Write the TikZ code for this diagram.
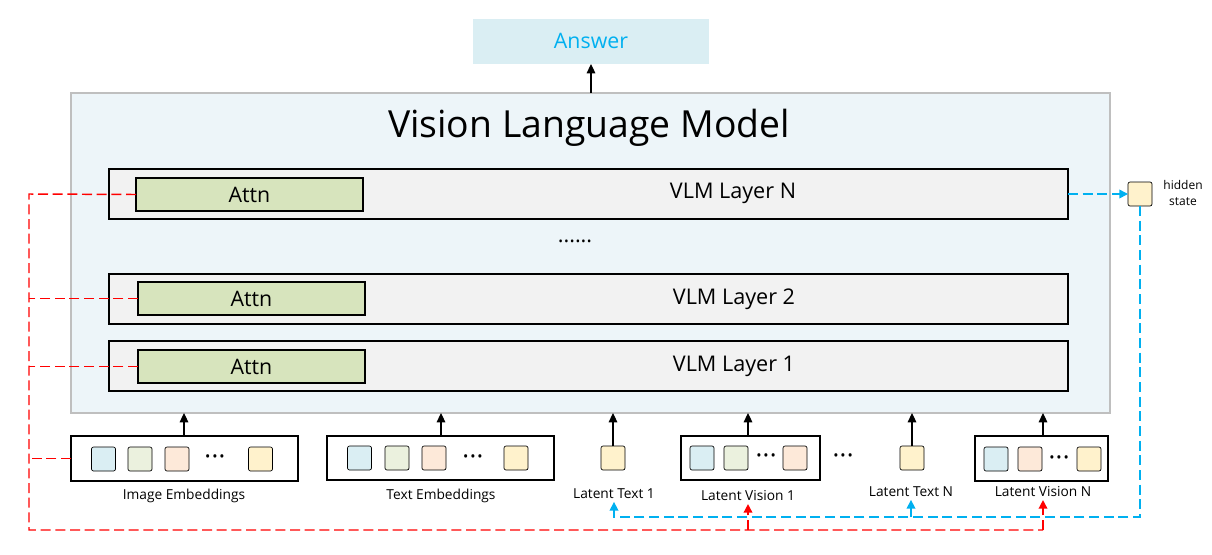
\documentclass[tikz,border=0pt]{standalone}
\usepackage{fontspec}
\setmainfont{Open Sans}
\usetikzlibrary{arrows.meta}
\definecolor{ansfill}{HTML}{DAEEF3}
\definecolor{anstext}{HTML}{00B0F0}
\definecolor{vlmfill}{HTML}{EDF5F9}
\definecolor{vlmborder}{HTML}{BFBFBF}
\definecolor{layerfill}{HTML}{F2F2F2}
\definecolor{attnfill}{HTML}{D7E4BD}
\definecolor{sqblue}{HTML}{DAEEF3}
\definecolor{sqgreen}{HTML}{EBF1DE}
\definecolor{sqpeach}{HTML}{FDE9D9}
\definecolor{sqyellow}{HTML}{FFF2CC}
\definecolor{redline}{HTML}{FF0000}
\definecolor{blueline}{HTML}{00B0F0}
\tikzset{
  pbox/.style n args={4}{at={(#1,#2)}, anchor=north west,
     minimum width={(#3-#1)*0.75pt}, minimum height={(#4-#2)*0.75pt},
     inner sep=0pt, outer sep=0pt},
  layerbox/.style={draw=black, fill=layerfill, line width=0.8pt},
  attnbox/.style={draw=black, fill=attnfill, line width=0.8pt, font=\fontsize{16}{19}\selectfont},
  laytext/.style={font=\fontsize{16.2}{19}\selectfont},
  embbox/.style={draw=black, fill=white, line width=0.9pt},
  sq/.style={draw=black, line width=0.5pt, rounded corners=1.5pt, minimum width=18pt, minimum height=18pt, inner sep=0pt, outer sep=0pt},
  lbl/.style={font=\fontsize{10.3}{12}\selectfont, inner sep=1pt},
  dots/.style={font=\fontsize{10.5}{10.5}\selectfont, inner sep=0pt},
  up/.style={-{Triangle[length=7pt,width=6.5pt]}, line width=0.8pt, black},
  reddash/.style={draw=redline, line width=1.1pt, dash pattern=on 7.5pt off 3.5pt},
  bluedash/.style={draw=blueline, line width=1.1pt, dash pattern=on 7.5pt off 3.5pt},
  dtip/.style={-{Triangle[length=6.5pt,width=6.5pt]}},
}
\newcommand\tdots{•\kern1.4pt•\kern1.4pt•}
\begin{document}
\begin{tikzpicture}[x=0.75pt,y=-0.75pt]
\useasboundingbox (0,0) rectangle (1212,554);
% answer
\node[pbox={473}{19}{709}{64}, fill=ansfill] (ans) {};
\node[text=anstext, font=\fontsize{16}{19}\selectfont] (anst) at (591,41) {Answer};
% VLM
\node[pbox={71}{93}{1110}{413}, fill=vlmfill, draw=vlmborder, line width=0.8pt] (vlm) {};
\node[font=\fontsize{28}{32}\selectfont] (title) at (589,128) {Vision Language Model};
\draw[up] (vlm.north -| ans.south) -- (ans.south);
% layers
\node[pbox={109}{169}{1068}{219}, layerbox] (layN) {};
\node[pbox={136}{178}{363}{211}, attnbox] (attnN) {Attn};
\node[laytext] (layNt) at (733,193) {VLM Layer N};
\node[laytext] (ldots) at (575,241) {......};
\node[pbox={109}{274}{1068}{324}, layerbox] (lay2) {};
\node[pbox={138}{282}{365}{315}, attnbox] (attn2) {Attn};
\node[laytext] (lay2t) at (734,299) {VLM Layer 2};
\node[pbox={109}{341}{1068}{391}, layerbox] (lay1) {};
\node[pbox={138}{350}{365}{383}, attnbox] (attn1) {Attn};
\node[laytext] (lay1t) at (734,366) {VLM Layer 1};
% image embeddings
\node[pbox={71}{436}{298}{481}, embbox] (img) {};
\node[sq, fill=sqblue] (i1) at (103.5,459) {};
\node[sq, fill=sqgreen] (i2) at (140,459) {};
\node[sq, fill=sqpeach] (i3) at (177,459) {};
\node[dots] (id) at (215,458) {\tdots};
\node[sq, fill=sqyellow] (i4) at (260.5,459) {};
\node[lbl] (imgl) at (184,496) {Image Embeddings};
\draw[up] (img.north -| imgl.north) -- (vlm.south -| imgl.north);
% text embeddings
\node[pbox={327}{436}{554}{480}, embbox] (txt) {};
\node[sq, fill=sqblue] (t1) at (359.5,458) {};
\node[sq, fill=sqgreen] (t2) at (397,458) {};
\node[sq, fill=sqpeach] (t3) at (434,458) {};
\node[dots] (td) at (473,458) {\tdots};
\node[sq, fill=sqyellow] (t4) at (516,458) {};
\node[lbl] (txtl) at (441,496) {Text Embeddings};
\draw[up] (txt.north -| txtl.north) -- (vlm.south -| txtl.north);
% latent text 1
\node[sq, fill=sqyellow] (lt1) at (613,458) {};
\node[lbl] (lt1l) at (614,494) {Latent Text 1};
\draw[up] (lt1.north) -- (vlm.south -| lt1.north);
% latent vision 1
\node[pbox={681}{436}{820}{480}, embbox] (lv1) {};
\node[sq, fill=sqblue] (v1a) at (702,458) {};
\node[sq, fill=sqgreen] (v1b) at (736,458) {};
\node[dots] (v1d) at (766,457) {\tdots};
\node[sq, fill=sqpeach] (v1c) at (795,458) {};
\node[lbl] (lv1l) at (748,496) {Latent Vision 1};
\draw[up] (lv1.north -| lv1l.north) -- (vlm.south -| lv1l.north);
\node[dots] (mdots) at (843,457) {\tdots};
% latent text N
\node[sq, fill=sqyellow] (ltN) at (912,458) {};
\node[lbl] (ltNl) at (911,492) {Latent Text N};
\draw[up] (ltN.north) -- (vlm.south -| ltN.north);
% latent vision N
\node[pbox={975}{436}{1108}{481}, embbox] (lvN) {};
\node[sq, fill=sqblue] (vNa) at (996,459) {};
\node[sq, fill=sqpeach] (vNb) at (1030,459) {};
\node[dots] (vNd) at (1059,459) {\tdots};
\node[sq, fill=sqyellow] (vNc) at (1089,459) {};
\node[lbl] (lvNl) at (1043,492) {Latent Vision N};
\draw[up] (lvN.north -| lvNl.north) -- (vlm.south -| lvNl.north);
% hidden state
\node[sq, fill=sqyellow] (hs) at (1140,194) {};
\node[lbl, align=center, font=\fontsize{9}{11.5}\selectfont] (hsl) at (1183,193) {hidden\\state};
% red dashed
\coordinate (rtop) at (29,194);
\coordinate (rbot) at (29,530);
\draw[reddash] (attnN.west) -- (rtop) -- (rbot) -- (rbot -| lvNl.south);
\draw[reddash] (attn2.west) -- (attn2.west -| rtop);
\draw[reddash] (attn1.west) -- (attn1.west -| rtop);
\draw[reddash] (img.west) -- (img.west -| rtop);
\draw[reddash, dtip, redline] (rbot -| lv1l.south) -- ([yshift=-1pt]lv1l.south);
\draw[reddash, dtip, redline] (rbot -| lvNl.south) -- ([yshift=-1pt]lvNl.south);
% blue dashed
\coordinate (bcorner) at (1140,517);
\draw[bluedash, dtip, blueline] (layN.east) -- (hs.west);
\draw[bluedash, dtip, blueline] (hs.south) -- (bcorner) -| ([yshift=-1pt]lt1l.south);
\draw[bluedash, dtip, blueline] (bcorner -| ltNl.south) -- ([yshift=-1pt]ltNl.south);
\end{tikzpicture}
\end{document}
